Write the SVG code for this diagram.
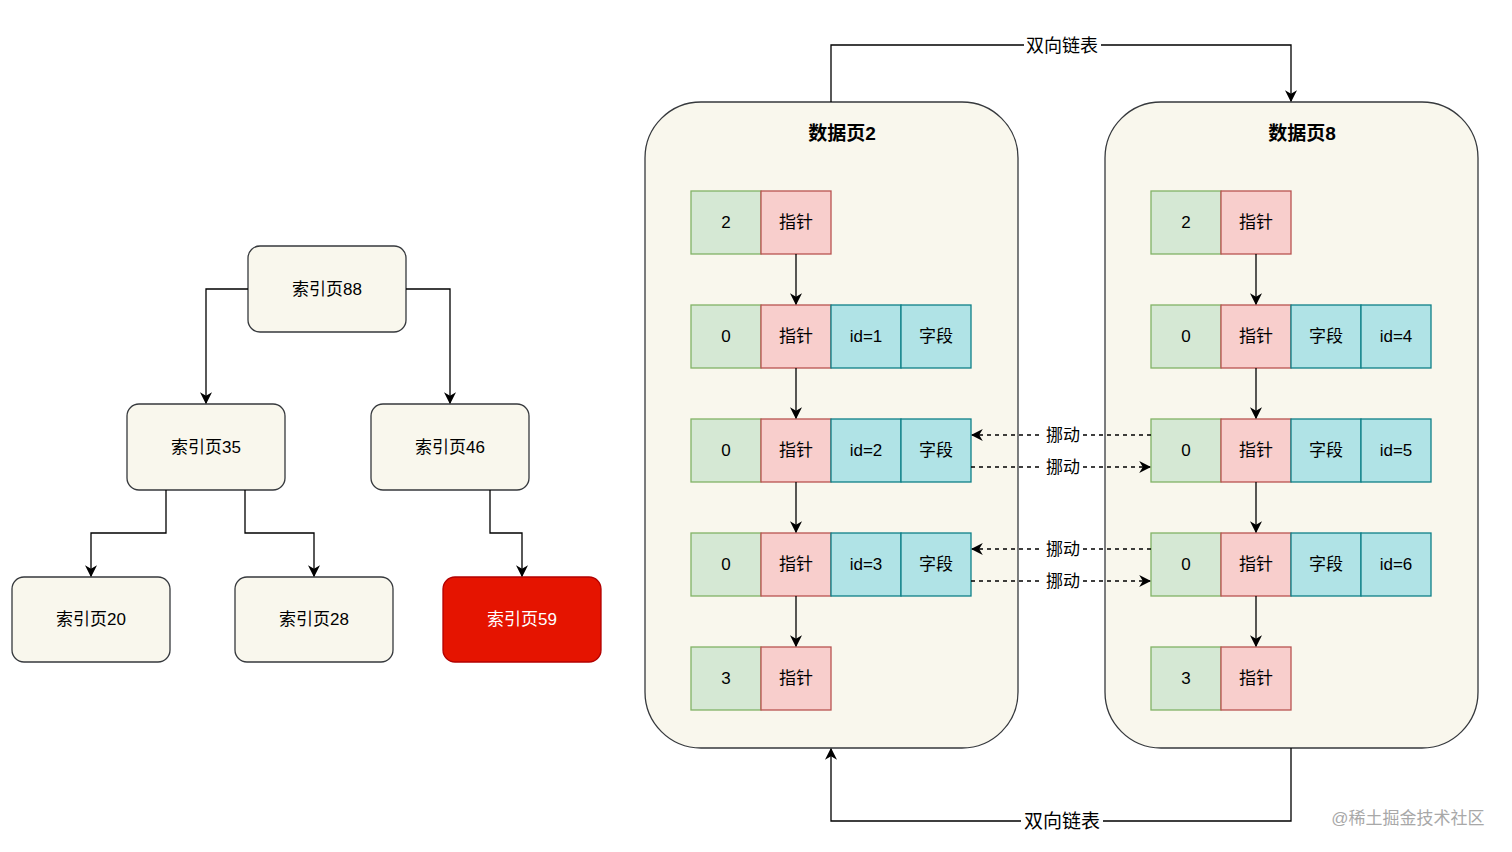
<svg xmlns="http://www.w3.org/2000/svg" width="1512" height="852" viewBox="0 0 1512 852">
<defs>
<style>
text{font-family:"Liberation Sans","Noto Sans CJK SC",sans-serif;font-size:17px;fill:#000;text-anchor:middle;dominant-baseline:central}
.tn{fill:#f9f7ed;stroke:#36393d;stroke-width:1.3}
.pg{fill:#f9f7ed;stroke:#36393d;stroke-width:1.3}
.g{fill:#d5e8d4;stroke:#82b366;stroke-width:1.3}
.r{fill:#f8cecc;stroke:#b85450;stroke-width:1.3}
.t{fill:#b0e3e6;stroke:#0e8088;stroke-width:1.3}
.ln{fill:none;stroke:#000;stroke-width:1.3}
.ds{fill:none;stroke:#000;stroke-width:1.3;stroke-dasharray:4 4}
.ttl{font-size:19px;font-weight:bold}
.lb{fill:#fff}
</style>
<marker id="a" viewBox="0 0 10 10" refX="9" refY="5" markerWidth="12" markerHeight="12" orient="auto" markerUnits="userSpaceOnUse">
<path d="M0,0 L10,5 L0,10 L3,5 Z" fill="#000"/>
</marker>
</defs>
<rect width="1512" height="852" fill="#fff"/>

<g id="page2">
<rect class="pg" x="645" y="102" width="373" height="646" rx="56"/>
<text class="ttl" x="842" y="133">数据页2</text>
</g>
<g id="page8">
<rect class="pg" x="1105" y="102" width="373" height="646" rx="56"/>
<text class="ttl" x="1302" y="133">数据页8</text>
</g>

<g id="p2r1"><rect class="g" x="691" y="191" width="70" height="63"/><text x="726" y="222.5">2</text><rect class="r" x="761" y="191" width="70" height="63"/><text x="796" y="222.5">指针</text></g>
<g id="p2r2"><rect class="g" x="691" y="305" width="70" height="63"/><text x="726" y="336.5">0</text><rect class="r" x="761" y="305" width="70" height="63"/><text x="796" y="336.5">指针</text><rect class="t" x="831" y="305" width="70" height="63"/><text x="866" y="336.5">id=1</text><rect class="t" x="901" y="305" width="70" height="63"/><text x="936" y="336.5">字段</text></g>
<g id="p2r3"><rect class="g" x="691" y="419" width="70" height="63"/><text x="726" y="450.5">0</text><rect class="r" x="761" y="419" width="70" height="63"/><text x="796" y="450.5">指针</text><rect class="t" x="831" y="419" width="70" height="63"/><text x="866" y="450.5">id=2</text><rect class="t" x="901" y="419" width="70" height="63"/><text x="936" y="450.5">字段</text></g>
<g id="p2r4"><rect class="g" x="691" y="533" width="70" height="63"/><text x="726" y="564.5">0</text><rect class="r" x="761" y="533" width="70" height="63"/><text x="796" y="564.5">指针</text><rect class="t" x="831" y="533" width="70" height="63"/><text x="866" y="564.5">id=3</text><rect class="t" x="901" y="533" width="70" height="63"/><text x="936" y="564.5">字段</text></g>
<g id="p2r5"><rect class="g" x="691" y="647" width="70" height="63"/><text x="726" y="678.5">3</text><rect class="r" x="761" y="647" width="70" height="63"/><text x="796" y="678.5">指针</text></g>

<g id="p8r1"><rect class="g" x="1151" y="191" width="70" height="63"/><text x="1186" y="222.5">2</text><rect class="r" x="1221" y="191" width="70" height="63"/><text x="1256" y="222.5">指针</text></g>
<g id="p8r2"><rect class="g" x="1151" y="305" width="70" height="63"/><text x="1186" y="336.5">0</text><rect class="r" x="1221" y="305" width="70" height="63"/><text x="1256" y="336.5">指针</text><rect class="t" x="1291" y="305" width="70" height="63"/><text x="1326" y="336.5">字段</text><rect class="t" x="1361" y="305" width="70" height="63"/><text x="1396" y="336.5">id=4</text></g>
<g id="p8r3"><rect class="g" x="1151" y="419" width="70" height="63"/><text x="1186" y="450.5">0</text><rect class="r" x="1221" y="419" width="70" height="63"/><text x="1256" y="450.5">指针</text><rect class="t" x="1291" y="419" width="70" height="63"/><text x="1326" y="450.5">字段</text><rect class="t" x="1361" y="419" width="70" height="63"/><text x="1396" y="450.5">id=5</text></g>
<g id="p8r4"><rect class="g" x="1151" y="533" width="70" height="63"/><text x="1186" y="564.5">0</text><rect class="r" x="1221" y="533" width="70" height="63"/><text x="1256" y="564.5">指针</text><rect class="t" x="1291" y="533" width="70" height="63"/><text x="1326" y="564.5">字段</text><rect class="t" x="1361" y="533" width="70" height="63"/><text x="1396" y="564.5">id=6</text></g>
<g id="p8r5"><rect class="g" x="1151" y="647" width="70" height="63"/><text x="1186" y="678.5">3</text><rect class="r" x="1221" y="647" width="70" height="63"/><text x="1256" y="678.5">指针</text></g>

<g id="n88"><rect class="tn" x="248" y="246" width="158" height="86" rx="12"/><text x="327" y="289">索引页88</text></g>
<g id="n35"><rect class="tn" x="127" y="404" width="158" height="86" rx="12"/><text x="206" y="447">索引页35</text></g>
<g id="n46"><rect class="tn" x="371" y="404" width="158" height="86" rx="12"/><text x="450" y="447">索引页46</text></g>
<g id="n20"><rect class="tn" x="12" y="577" width="158" height="85" rx="12"/><text x="91" y="619.5">索引页20</text></g>
<g id="n28"><rect class="tn" x="235" y="577" width="158" height="85" rx="12"/><text x="314" y="619.5">索引页28</text></g>
<g id="n59"><rect x="443" y="577" width="158" height="85" rx="12" fill="#e51400" stroke="#b20000" stroke-width="1.3"/><text x="522" y="619.5" style="fill:#fff">索引页59</text></g>

<g id="connectors">
<path class="ln" d="M248,289 H206 V403" marker-end="url(#a)"/>
<path class="ln" d="M406,289 H450 V403" marker-end="url(#a)"/>
<path class="ln" d="M166,490 V533 H91 V576" marker-end="url(#a)"/>
<path class="ln" d="M245,490 V533 H314 V576" marker-end="url(#a)"/>
<path class="ln" d="M490,490 V533 H522 V576" marker-end="url(#a)"/>

<path class="ln" d="M796,254 V304" marker-end="url(#a)"/>
<path class="ln" d="M796,368 V418" marker-end="url(#a)"/>
<path class="ln" d="M796,482 V532" marker-end="url(#a)"/>
<path class="ln" d="M796,596 V646" marker-end="url(#a)"/>
<path class="ln" d="M1256,254 V304" marker-end="url(#a)"/>
<path class="ln" d="M1256,368 V418" marker-end="url(#a)"/>
<path class="ln" d="M1256,482 V532" marker-end="url(#a)"/>
<path class="ln" d="M1256,596 V646" marker-end="url(#a)"/>

<path class="ds" d="M1151,435 H972" marker-end="url(#a)"/>
<path class="ds" d="M971,467 H1150" marker-end="url(#a)"/>
<path class="ds" d="M1151,549 H972" marker-end="url(#a)"/>
<path class="ds" d="M971,581 H1150" marker-end="url(#a)"/>
<rect class="lb" x="1043" y="425" width="40" height="20"/>
<text x="1063" y="435">挪动</text>
<rect class="lb" x="1043" y="457" width="40" height="20"/>
<text x="1063" y="467">挪动</text>
<rect class="lb" x="1043" y="539" width="40" height="20"/>
<text x="1063" y="549">挪动</text>
<rect class="lb" x="1043" y="571" width="40" height="20"/>
<text x="1063" y="581">挪动</text>

<path class="ln" d="M831,102 V45 H1291 V101" marker-end="url(#a)"/>
<rect class="lb" x="1024" y="35" width="77" height="22"/>
<text x="1062" y="46" style="font-size:18px">双向链表</text>
<path class="ln" d="M1291,748 V821 H831 V749" marker-end="url(#a)"/>
<rect class="lb" x="1021" y="810" width="82" height="22"/>
<text x="1062" y="821" style="font-size:19px">双向链表</text>
</g>

<text x="1408" y="818" style="font-size:17px;fill:#a8a8a8">@稀土掘金技术社区</text>
</svg>
